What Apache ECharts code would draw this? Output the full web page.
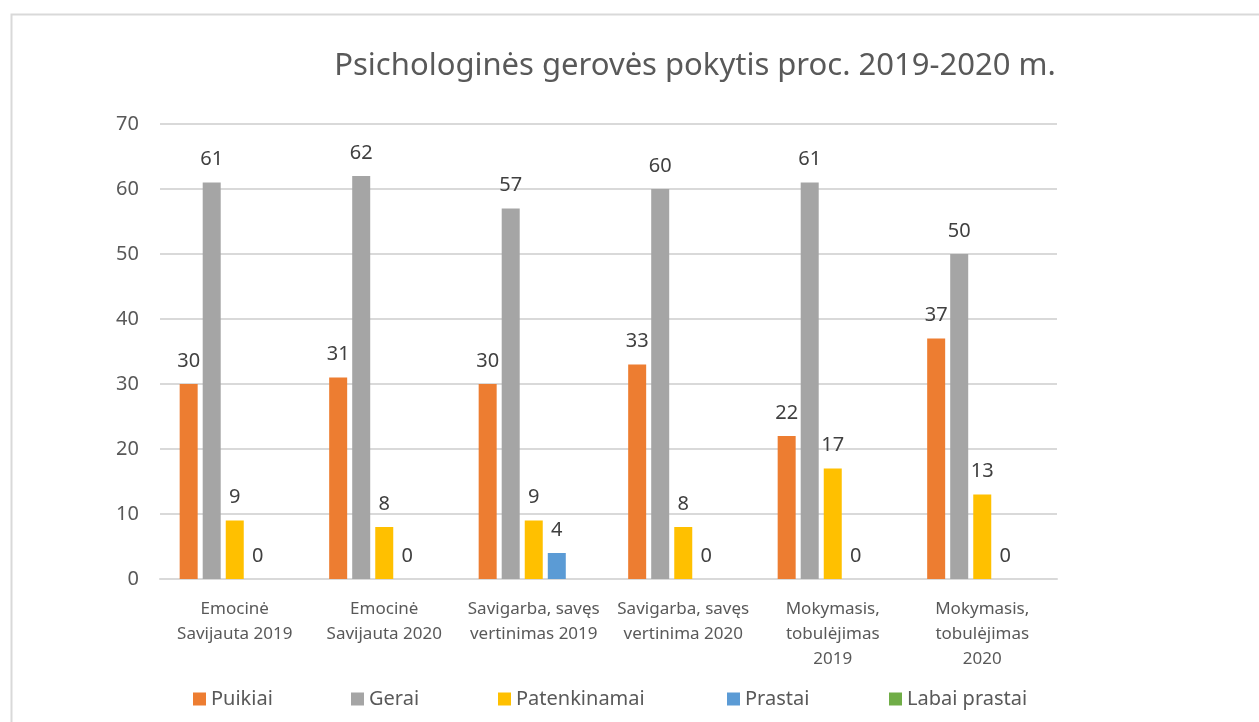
<!DOCTYPE html>
<html>
<head>
<meta charset="utf-8">
<script src="https://cdn.jsdelivr.net/npm/echarts@6/dist/echarts.min.js"></script>
<style>
    html, body { margin: 0; padding: 0; background: #fff; }
    #chart { width: 1259px; height: 722px; }
</style>
</head>
<body>
<div id="chart"></div>
<script>
// kategorijos (x ašis)
const categories = [
    'Emocinė\nSavijauta 2019',
    'Emocinė\nSavijauta 2020',
    'Savigarba, savęs\nvertinimas 2019',
    'Savigarba, savęs\nvertinima 2020',
    'Mokymasis,\ntobulėjimas\n2019',
    'Mokymasis,\ntobulėjimas\n2020'
];

const seriesNames = ['Puikiai', 'Gerai', 'Patenkinamai', 'Prastai', 'Labai prastai'];

const puikiai = [30, 31, 30, 33, 22, 37];
const gerai = [61, 62, 57, 60, 61, 50];
const patenkinamai = [9, 8, 9, 8, 17, 13];
const prastai = [0, 0, 4, 0, 0, 0];
const labaiPrastai = [null, null, null, null, null, null];

const yTicks = [0, 10, 20, 30, 40, 50, 60, 70];

const colors = ['#ED7D31', '#A5A5A5', '#FFC000', '#5B9BD5', '#70AD47'];
const values = [puikiai, gerai, patenkinamai, prastai, labaiPrastai];

const font = '"Noto Sans", sans-serif';
const legendLeft = [188, 346, 493, 722, 884];

const chart = echarts.init(document.getElementById('chart'));

const option = {
    backgroundColor: '#fff',
    animation: false,
    color: colors,
    title: {
        text: 'Psichologinės gerovės pokytis proc. 2019-2020 m.',
        left: 690,
        textAlign: 'center',
        top: 46,
        textStyle: {
            fontFamily: font,
            fontSize: 31,
            fontWeight: 'normal',
            color: '#595959'
        }
    },
    graphic: [{
        type: 'rect',
        left: 9,
        top: 12,
        shape: { width: 1300, height: 800 },
        style: { fill: 'none', stroke: '#d9d9d9', lineWidth: 2 },
        silent: true
    }],
    legend: seriesNames.map((name, i) => ({
        data: [name],
        left: legendLeft[i],
        top: 684,
        itemWidth: 13,
        itemHeight: 13,
        itemGap: 6,
        icon: 'rect',
        textStyle: { fontFamily: font, fontSize: 20, color: '#595959' }
    })),
    grid: {
        left: 160,
        right: 202,
        top: 124,
        bottom: 143
    },
    xAxis: {
        type: 'category',
        data: categories,
        axisTick: { show: false },
        axisLine: { lineStyle: { color: '#d9d9d9', width: 2 } },
        axisLabel: {
            interval: 0,
            margin: 18,
            fontFamily: font,
            fontSize: 17,
            lineHeight: 25,
            color: '#595959'
        }
    },
    yAxis: {
        type: 'value',
        min: yTicks[0],
        max: yTicks[yTicks.length - 1],
        interval: 10,
        axisLine: { show: false },
        axisTick: { show: false },
        splitLine: { lineStyle: { color: '#d9d9d9', width: 2 } },
        axisLabel: {
            margin: 21,
            fontFamily: font,
            fontSize: 20,
            color: '#595959'
        }
    },
    series: seriesNames.map((name, i) => ({
        name: name,
        type: 'bar',
        data: values[i],
        barWidth: 18,
        barGap: '28%',
        itemStyle: { color: colors[i] },
        label: {
            show: true,
            position: 'top',
            distance: 13,
            fontFamily: font,
            fontSize: 20,
            color: '#404040'
        }
    }))
};

chart.setOption(option);
</script>
</body>
</html>
